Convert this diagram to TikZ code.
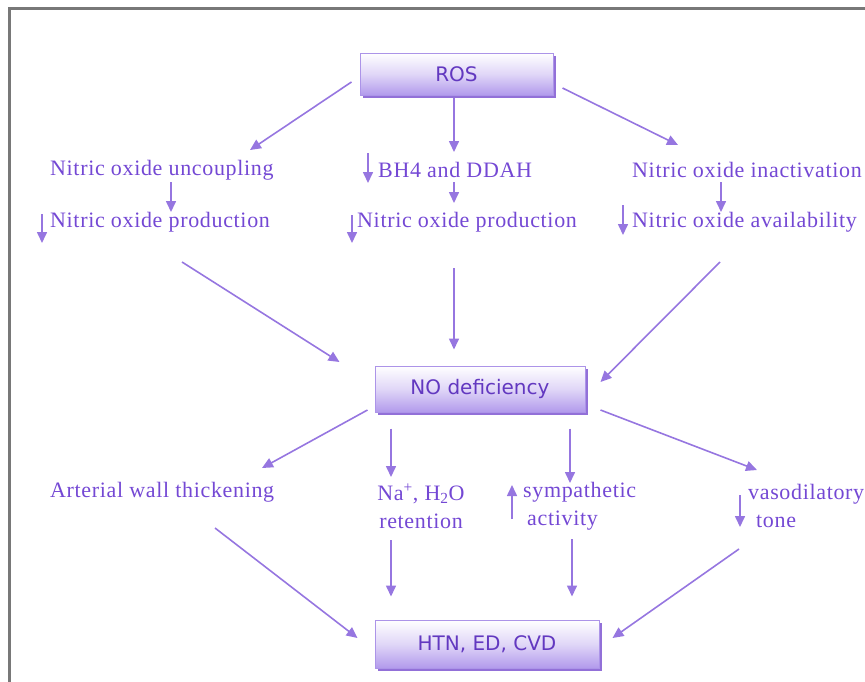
\documentclass[tikz,border=0pt]{standalone}
\usepackage{fontspec}
\setmainfont[LetterSpace=3]{Liberation Serif}
\setsansfont{DejaVu Sans}
\usetikzlibrary{arrows.meta, shadows}
\definecolor{boxline}{RGB}{172,148,232}
\definecolor{boxfill}{RGB}{178,154,236}
\definecolor{boxtext}{RGB}{98,56,192}
\definecolor{boxshade}{RGB}{146,112,216}
\definecolor{efftext}{RGB}{116,72,212}
\definecolor{arrowc}{RGB}{150,118,224}
\definecolor{framec}{RGB}{120,120,120}
\newcommand{\boxfont}{\fontsize{20}{23}\selectfont\sffamily}
\newcommand{\efffont}{\fontsize{22}{28}\selectfont}
\tikzset{
  bigbox/.style={
    draw=boxline,
    line width=1pt,
    top color=white,
    bottom color=boxfill,
    middle color=boxfill!40,
    align=center,
    font=\boxfont,
    text=boxtext,
    drop shadow={shadow xshift=3pt, shadow yshift=-3pt, fill=boxshade, opacity=1}
  },
  effect/.style={
    inner sep=0pt,
    anchor=west,
    align=left,
    text=efftext,
    font=\efffont
  },
  arrow/.style={draw=arrowc, line width=1.6pt, -{Triangle[length=11pt,width=10pt]}}
}
\begin{document}
\begin{tikzpicture}[x=1pt, y=-1pt, every edge/.style={arrow}]
  \useasboundingbox (0,0) rectangle (865,681);
  \draw [framec, line width=3pt] (9,690) -- (9,8) -- (875,8);
  % boxes
  \node (ros) [bigbox, minimum width=193pt, minimum height=42pt] at (456.5,74) {ROS};
  \node (nod) [bigbox, minimum width=210pt, minimum height=46pt] at (480,389) {NO deficiency};
  \node (htn) [bigbox, minimum width=224pt, minimum height=48pt] at (487,644) {HTN, ED, CVD};
  % first row
  \node (uncL) [effect] at (50,170) {Nitric oxide uncoupling};
  \node (prodL) [effect] at (50,222) {Nitric oxide production};
  \node (bh) [effect] at (378,170) {BH4 and DDAH};
  \node (prodM) [effect] at (357,222) {Nitric oxide production};
  \node (inact) [effect] at (632,170) {Nitric oxide inactivation};
  \node (avail) [effect] at (632,222) {Nitric oxide availability};
  % second row
  \node (art) [effect] at (50,492) {Arterial wall thickening};
  \node (na) [effect, anchor=center, align=center] at (421,506) {Na\textsuperscript{+}, H\textsubscript{2}O\\retention};
  \node (sym) [effect] at (523,506) {sympathetic\\\hspace{4pt}activity};
  \node (vaso) [effect] at (748,506) {vasodilatory\\\hspace{8pt}tone};
  \path
  ([shift={(-8,8)}]ros.west) edge ([shift={(200,-20)}]uncL.west)
  ([shift={(-2.5,2)}]ros.south) edge ([shift={(76,-18)}]bh.west)
  ([shift={(9,14)}]ros.east) edge ([shift={(46,-25)}]inact.west)
  ([shift={(121,12)}]uncL.west) edge ([shift={(121,-10)}]prodL.west)
  ([shift={(-8,-8)}]prodL.west) edge ([shift={(-8,21)}]prodL.west)
  ([shift={(-10,-17)}]bh.west) edge ([shift={(-10,13)}]bh.west)
  ([shift={(76,12)}]bh.west) edge ([shift={(97,-19)}]prodM.west)
  ([shift={(-5,-7)}]prodM.west) edge ([shift={(-5,21)}]prodM.west)
  ([shift={(89,12)}]inact.west) edge ([shift={(89,-10)}]avail.west)
  ([shift={(-9,-17)}]avail.west) edge ([shift={(-9,13)}]avail.west)
  ([shift={(132,40)}]prodL.west) edge ([shift={(-35,-27)}]nod.west)
  ([shift={(97,46)}]prodM.west) edge ([shift={(-26,-16)}]nod.north)
  ([shift={(88,40)}]avail.west) edge ([shift={(15,-7)}]nod.east)
  ([shift={(-7,21)}]nod.west) edge ([shift={(212,-24)}]art.west)
  ([shift={(-89,16)}]nod.south) edge ([shift={(-30,-29)}]na.center)
  ([shift={(90,16)}]nod.south) edge ([shift={(47,-23)}]sym.west)
  ([shift={(-11,13)}]sym.west) edge ([shift={(-11,-21)}]sym.west)
  ([shift={(15,21)}]nod.east) edge ([shift={(9,-36)}]vaso.west)
  ([shift={(-8,-11)}]vaso.west) edge ([shift={(-8,21)}]vaso.west)
  ([shift={(165,36)}]art.west) edge ([shift={(-17,-6)}]htn.west)
  ([shift={(-30,34)}]na.center) edge ([shift={(-96,-23)}]htn.north)
  ([shift={(49,33)}]sym.west) edge ([shift={(85,-23)}]htn.north)
  ([shift={(-9,43)}]vaso.west) edge ([shift={(13,-6)}]htn.east)
  ;
\end{tikzpicture}
\end{document}
